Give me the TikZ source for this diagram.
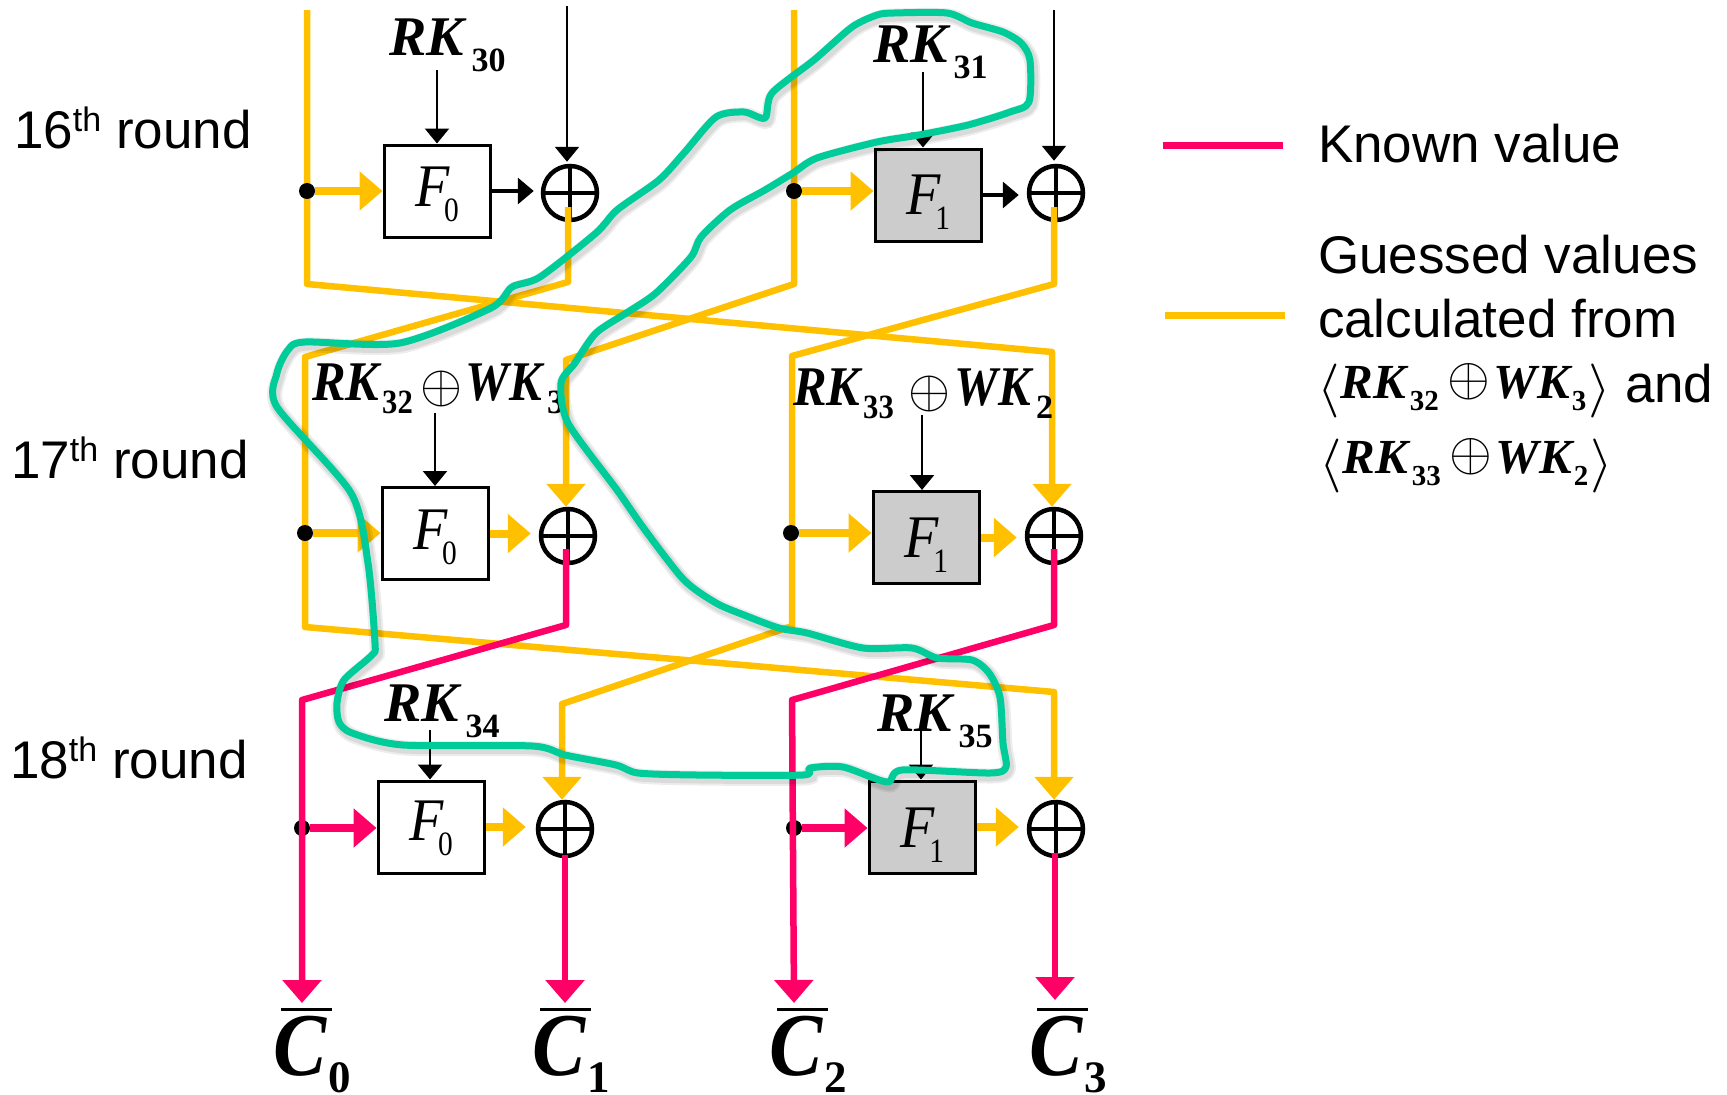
\documentclass[tikz,border=0pt]{standalone}
\usepackage{graphicx}
\usepackage{fontspec}
\usetikzlibrary{arrows.meta}
\setmainfont{Liberation Sans}
\newfontfamily\tms{Liberation Serif}
\definecolor{gold}{HTML}{FFC000}
\definecolor{rosered}{HTML}{FF0066}
\definecolor{teal2}{HTML}{00CC99}
\definecolor{boxgray}{HTML}{CCCCCC}
\newcommand\biT[2]{{\fontsize{#1}{#1}\tms\bfseries\itshape #2}}
\newcommand\bT[2]{{\fontsize{#1}{#1}\tms\bfseries #2}}
\newcommand\Flab[2]{\rule{0pt}{#1pt}\scalebox{1}[1.08]{\fontsize{56}{56}\tms\itshape F}\hspace{-5pt}\raisebox{-15pt}{\scalebox{.95}[1.1]{\fontsize{31}{31}\tms #2}}}
\newcommand\RKs[3]{\biT{56}{#1}\hspace{#3pt}\raisebox{-16pt}{\bT{34}{#2}}}
\newcommand\Clab[1]{\rlap{\hspace{8pt}\raisebox{64.5pt}{\rule{51pt}{3pt}}}\scalebox{.96}[1.08]{\biT{83}{C}}\hspace{2pt}\raisebox{-17pt}{\bT{45}{#1}}}
\newcommand\rnd[1]{{\fontsize{53}{53}\selectfont #1\raisebox{17pt}{\fontsize{34}{34}\selectfont th} round}}
\newcommand\opl[1]{\raisebox{-.5pt}{\scalebox{#1}{$\oplus$}}}
\newcommand\RKWK[4]{\scalebox{.9}[1]{\biT{56}{RK}}\hspace{3pt}\raisebox{-13.5pt}{\scalebox{.9}[1]{\bT{34}{#1}}}\hspace{#3pt}\raisebox{-2pt}{\opl{5.4}}\hspace{#4pt}\scalebox{.875}[1]{\biT{56}{WK}}\hspace{5pt}\raisebox{-13.5pt}{\bT{34}{#2}}}
\newcommand\LegMath[2]{\raisebox{-6pt}{\scalebox{5.8}[5.4]{$\langle$}}\hspace{1pt}\biT{49}{RK}\hspace{4pt}\raisebox{-12pt}{\bT{29}{#1}}\hspace{9pt}\raisebox{3pt}{\opl{5.5}}\hspace{3pt}\biT{49}{WK}\hspace{2pt}\raisebox{-12pt}{\bT{29}{#2}}\hspace{2pt}\raisebox{-6pt}{\scalebox{5.8}[5.4]{$\rangle$}}}
\tikzset{
  fzero/.style={draw,line width=3pt,fill=white,minimum width=106pt,minimum height=92pt,inner sep=0pt},
  fone/.style={fzero,fill=boxgray},
  xorgate/.style={circle,draw,line width=4.5pt,minimum size=54pt,inner sep=0pt,fill=white,
    path picture={\draw[line width=4pt] (path picture bounding box.west)--(path picture bounding box.east)
      (path picture bounding box.north)--(path picture bounding box.south);}},
  dotn/.style={circle,fill=black,minimum size=16pt,inner sep=0pt},
  lab/.style={anchor=base west,inner sep=0pt,outer sep=0pt},
  wire/.style={line width=6.5pt,line join=round},
  ywire/.style={wire,draw=gold},
  rwire/.style={wire,draw=rosered},
  yhead/.style={ywire,-{Triangle[width=38pt,length=23pt,fill=gold]}},
  rhead/.style={rwire,-{Triangle[width=38pt,length=23pt,fill=rosered]}},
  ybig/.style={line width=8pt,draw=gold,-{Triangle[width=38pt,length=23pt,fill=gold]}},
  rbig/.style={line width=8pt,draw=rosered,-{Triangle[width=38pt,length=23pt,fill=rosered]}},
  karr/.style={line width=2.5pt,-{Triangle[width=24pt,length=15pt]}},
  kbig/.style={line width=3.5pt,-{Triangle[width=26pt,length=16pt]}},
}
\newcommand\greenpath{plot[smooth cycle,tension=.45] coordinates {
(894,13)(947,13)(972,23)(1003,32)(1021,43)(1030,60)(1029,102)(1010,112)(968,125)(919,135)(877,142)(817,158)
(793,173)(765,190)(730,210)(701,237)(691,257)(656,293)(628,312)(596,333)(575,363)(561,383)(568,423)(617,490)
(645,530)(684,580)(716,603)(744,615)(779,628)(807,633)(863,648)(912,648)(937,658)(972,660)(989,673)(1000,697)
(1003,743)(1006,767)(990,773)(902,770)(887,782)(843,767)(810,768)(803,775)(697,775)(638,773)(616,765)(565,755)
(532,746)(403,745)(352,733)(339,722)(337,703)(344,680)(372,655)(375,643)(368,563)(351,493)(277,407)(277,373)
(288,350)(305,342)(400,343)(491,308)(512,287)(540,277)(596,233)(617,210)(659,180)(684,153)(716,117)(744,112)
(765,118)(772,93)(814,60)(852,27)(877,15)}}
\begin{document}
\begin{tikzpicture}[x=1pt,y=-1pt]
\useasboundingbox (0,0) rectangle (1727,1095);
% gates
\node[xorgate] (xa) at (570,193) {};
\node[xorgate] (xb) at (1056,193) {};
\node[xorgate] (xc) at (568,536) {};
\node[xorgate] (xd) at (1054,536) {};
\node[xorgate] (xe) at (565,829) {};
\node[xorgate] (xf) at (1056,829) {};
% boxes
\node[fzero] (fa) at (437,191) {\Flab{47}{0}};
\node[fone]  (fb) at (928,195) {\Flab{53}{1}};
\node[fzero] (fc) at (435,533.5) {\Flab{48}{0}};
\node[fone]  (fd) at (926,537.5) {\Flab{54}{1}};
\node[fzero] (fe) at (431,827) {\Flab{43}{0}};
\node[fone]  (ff) at (922,827) {\Flab{55}{1}};
% bend points
\coordinate (t1) at (307,10);   \coordinate (t1b) at (307,284);  \coordinate (t1c) at (1052,352);
\coordinate (t2) at (568,207);  \coordinate (t2b) at (568,282);  \coordinate (t2c) at (305,357);  \coordinate (t2d) at (305,627); \coordinate (t2e) at (1054,692);
\coordinate (t3) at (794,10);   \coordinate (t3b) at (794,284);  \coordinate (t3c) at (566,360);
\coordinate (t4) at (1054,207); \coordinate (t4b) at (1054,284); \coordinate (t4c) at (792,356);  \coordinate (t4d) at (792,626); \coordinate (t4e) at (562,704);
\coordinate (r1) at (566,549);  \coordinate (r1b) at (566,625);  \coordinate (r1c) at (302,700);  \coordinate (c0t) at (302,1003);
\coordinate (r2) at (1054,549); \coordinate (r2b) at (1054,625); \coordinate (r2c) at (792,700);  \coordinate (c2t) at (794,1003);
\coordinate (r3) at (565,855);  \coordinate (c1t) at (565,1003);
\coordinate (r4) at (1055,853); \coordinate (c3t) at (1055,1000);
% yellow wires
\draw[yhead] (t1)--(t1b)--(t1c)--(t1c |- xd.north);
\draw[yhead] (t2)--(t2b)--(t2c)--(t2d)--(t2e)--(t2e |- xf.north);
\draw[yhead] (t3)--(t3b)--(t3c)--(t3c |- xc.north);
\draw[yhead] (t4)--(t4b)--(t4c)--(t4d)--(t4e)--(t4e |- xe.north);
% dots
\node[dotn] (da) at (307,191) {};
\node[dotn] (db) at (794,191) {};
\node[dotn] (dc) at (305,533) {};
\node[dotn] (dd) at (791,533) {};
\node[dotn] (de) at (302,828) {};
\node[dotn] (df) at (794,828) {};
% yellow horizontal
\draw[ybig] (da)--(da -| fa.west);
\draw[ybig] (db)--(db -| fb.west);
\draw[ybig] (dc)--(dc -| fc.west);
\draw[ybig] (dd)--(dd -| fd.west);
\draw[ybig,shorten >=8pt] (fc.east)--(fc.east -| xc.west);
\draw[ybig,shorten >=8pt] (fd.east)--(fd.east -| xd.west);
\draw[ybig,shorten >=10pt] (fe.east)--(fe.east -| xe.west);
\draw[ybig,shorten >=8pt] (ff.east)--(ff.east -| xf.west);
% red wires
\draw[rhead] (r1)--(r1b)--(r1c)--(c0t);
\draw[rhead] (r2)--(r2b)--(r2c)--(c2t);
\draw[rhead] (r3)--(c1t);
\draw[rhead] (r4)--(c3t);
\draw[rbig] (de)--(de -| fe.west);
\draw[rbig] (df)--(df -| ff.west);
% black arrows
\coordinate (k1) at (437,70);  \coordinate (k2) at (567,6);  \coordinate (k3) at (923,72); \coordinate (k4) at (1054,10);
\coordinate (k5) at (435,413); \coordinate (k6) at (922,415); \coordinate (k7) at (430,730); \coordinate (k8) at (921,730);
\draw[karr] (k1)--(k1 |- fa.north);
\draw[karr,shorten >=2pt] (k2)--(k2 |- xa.north);
\draw[karr] (k3)--(k3 |- fb.north);
\draw[karr,shorten >=3pt] (k4)--(k4 |- xb.north);
\draw[karr] (k5)--(k5 |- fc.north);
\draw[karr] (k6)--(k6 |- fd.north);
\draw[karr] (k7)--(k7 |- fe.north);
\draw[karr] (k8)--(k8 |- ff.north);
\draw[kbig,shorten >=7pt] (fa.east)--(fa.east -| xa.west);
\draw[kbig,shorten >=8pt] (fb.east)--(fb.east -| xb.west);
% labels
\node[lab] (l16) at (14,148) {\rnd{16}};
\node[lab] (l17) at (11,478) {\rnd{17}};
\node[lab] (l18) at (10,778) {\rnd{18}};
\node[lab] (rk30) at (389,55) {\RKs{RK}{30}{8}};
\node[lab] (rk31) at (873,62) {\RKs{RK}{31}{6}};
\node[lab] (rk34) at (384,721) {\RKs{RK}{34}{7}};
\node[lab] (rk35) at (877,731) {\RKs{RK}{35}{7}};
\node[lab] (rk32) at (312,400) {\RKWK{32}{3}{8}{3}};
\node[lab] (rk33) at (793,405) {\RKWK{33}{2}{15}{4}};
\node[lab] (c0) at (273,1075) {\Clab{0}};
\node[lab] (c1) at (532,1075) {\Clab{1}};
\node[lab] (c2) at (769,1075) {\Clab{2}};
\node[lab] (c3) at (1029,1075) {\Clab{3}};
% legend
\coordinate (la) at (1163,145); \coordinate (lb) at (1283,145);
\coordinate (lc) at (1165,315); \coordinate (ld) at (1285,315);
\draw[rwire,line width=7pt] (la)--(lb);
\draw[ywire,line width=7pt] (lc)--(ld);
\node[lab] (t1n) at (1318,162) {\fontsize{53}{53}\selectfont Known value};
\node[lab] (t2n) at (1318,273) {\fontsize{53}{53}\selectfont Guessed values};
\node[lab] (t3n) at (1318,337) {\fontsize{53}{53}\selectfont calculated from};
\node[lab] (t4n) at (1317,398) {\LegMath{32}{3}\hspace{14pt}\raisebox{-4pt}{\fontsize{53}{53}\selectfont and}};
\node[lab] (t5n) at (1319,473) {\LegMath{33}{2}};
% freehand loop
\begin{scope}[shift={(2,3)}]
\draw[black,opacity=.07,line width=15pt] \greenpath;
\draw[black,opacity=.08,line width=11pt] \greenpath;
\end{scope}
\draw[teal2,line width=7pt,line join=round] \greenpath;
\end{tikzpicture}
\end{document}
